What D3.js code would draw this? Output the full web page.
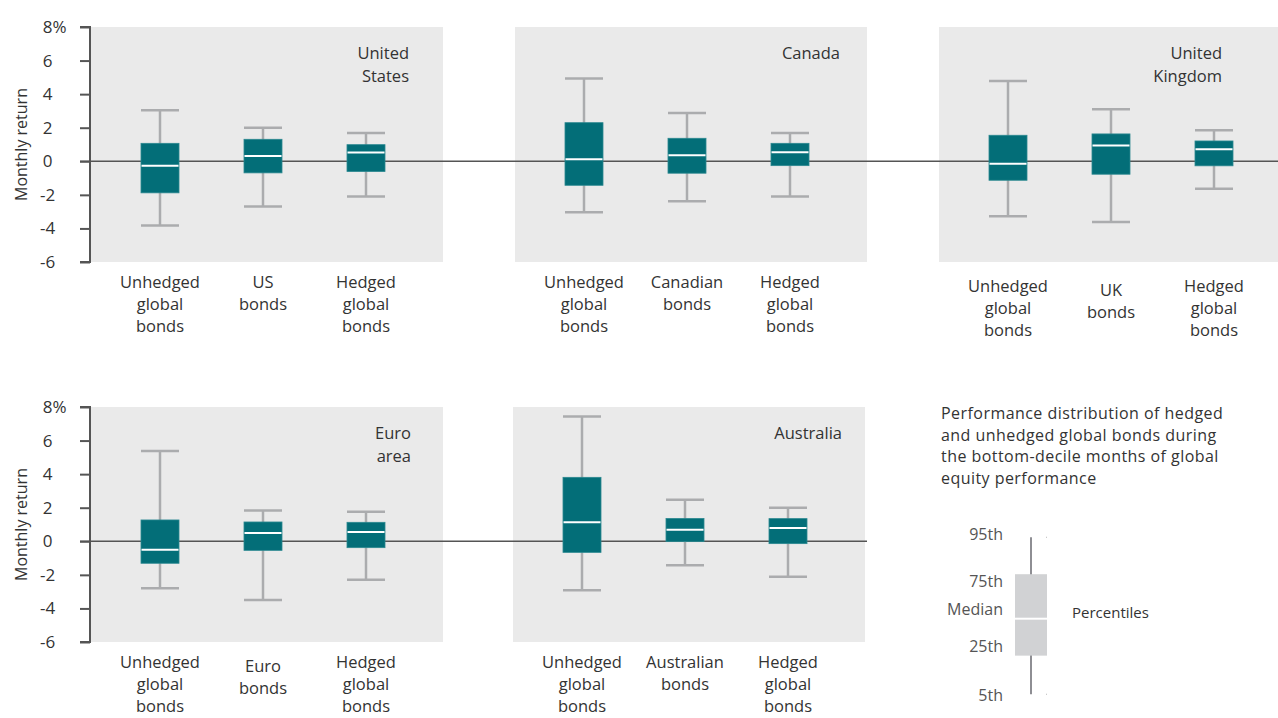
<!DOCTYPE html>
<html>
<head>
<meta charset="utf-8">
<script src="https://cdn.jsdelivr.net/npm/d3@7/dist/d3.min.js"></script>
<style>
  html, body { margin: 0; padding: 0; background: #fff; }
  svg { display: block; font-family: "Open Sans", "Noto Sans", sans-serif; }
</style>
</head>
<body>
<svg id="chart" width="1278" height="718"></svg>
<script>
// ---- Data: percentile statistics (monthly return, %) ----
const regions = ["United States", "Canada", "United Kingdom", "Euro area", "Australia"];
const regionTitles = [["United", "States"], ["Canada"], ["United", "Kingdom"], ["Euro", "area"], ["Australia"]];
const categoryLabels = [
  [["Unhedged", "global", "bonds"], ["US", "bonds"], ["Hedged", "global", "bonds"]],
  [["Unhedged", "global", "bonds"], ["Canadian", "bonds"], ["Hedged", "global", "bonds"]],
  [["Unhedged", "global", "bonds"], ["UK", "bonds"], ["Hedged", "global", "bonds"]],
  [["Unhedged", "global", "bonds"], ["Euro", "bonds"], ["Hedged", "global", "bonds"]],
  [["Unhedged", "global", "bonds"], ["Australian", "bonds"], ["Hedged", "global", "bonds"]]
];
// each row: [unhedged global, local bonds, hedged global]
const p5 = [
  [-3.83, -2.70, -2.10],
  [-3.04, -2.38, -2.10],
  [-3.28, -3.61, -1.63],
  [-2.80, -3.50, -2.29],
  [-2.92, -1.43, -2.11]
];
const p25 = [
  [-1.88, -0.69, -0.61],
  [-1.43, -0.71, -0.26],
  [-1.13, -0.77, -0.27],
  [-1.31, -0.54, -0.38],
  [-0.66, -0.02, -0.14]
];
const p50 = [
  [-0.26, 0.32, 0.52],
  [0.12, 0.36, 0.54],
  [-0.14, 0.94, 0.71],
  [-0.50, 0.49, 0.55],
  [1.13, 0.69, 0.79]
];
const p75 = [
  [1.07, 1.31, 0.99],
  [2.30, 1.37, 1.07],
  [1.55, 1.63, 1.21],
  [1.27, 1.15, 1.13],
  [3.81, 1.36, 1.35]
];
const p95 = [
  [3.04, 2.00, 1.69],
  [4.93, 2.88, 1.69],
  [4.79, 3.10, 1.85],
  [5.38, 1.84, 1.76],
  [7.44, 2.48, 2.00]
];
const yTicks = [-6, -4, -2, 0, 2, 4, 6, 8];
const yDomain = [-6, 8];

const legendTitle = ["Performance distribution of hedged", "and unhedged global bonds during",
                     "the bottom-decile months of global", "equity performance"];
const legendNames = ["5th", "25th", "Median", "75th", "95th"];
const legendValues = [-4.5, -2.2, 0, 2.65, 4.85];

// ---- Layout ----
const COLORS = {
  panel: "#eaeaea", box: "#036e78", boxEdge: "#2b8890", whisker: "#abacae",
  axis: "#555", text: "#333", legendBox: "#d1d2d4", legendWhisker: "#8e8e93", legendLabel: "#555"
};
const panelW = 352, panelH = 235;
const rows = [{ top: 27, zeroEnd: 1278 }, { top: 407, zeroEnd: 867 }];
const panels = [
  { row: 0, x: 91,  titleX: 318, labelShift: 0, midShift: 0 },
  { row: 0, x: 515, titleX: 325, labelShift: 0, midShift: 0 },
  { row: 0, x: 939, titleX: 283, labelShift: 4, midShift: 4 },
  { row: 1, x: 91,  titleX: 320, labelShift: 0, midShift: 4 },
  { row: 1, x: 513, titleX: 329, labelShift: 0, midShift: 0 }
];
const boxW = 38;

const svg = d3.select("#chart");

// y scales per row
const yScales = rows.map(r => d3.scaleLinear().domain(yDomain).range([r.top + panelH, r.top]));

// panel backgrounds
panels.forEach((p, i) => {
  const r = rows[p.row];
  const w = i === 2 ? 1278 - p.x : panelW;
  svg.append("rect").attr("x", p.x).attr("y", r.top).attr("width", w).attr("height", panelH)
    .attr("fill", COLORS.panel);
});

// y axes
rows.forEach((r, ri) => {
  const y = yScales[ri];
  const g = svg.append("g").attr("transform", `translate(90,0)`);
  const axis = d3.axisLeft(y).tickValues(yTicks).tickSize(10).tickFormat(d => d);
  g.call(axis);
  g.select(".domain").attr("stroke", COLORS.axis).attr("stroke-width", 2).attr("d", `M-10,${y(-6)}H0V${y(8)}H-10`);
  g.selectAll(".tick line").attr("stroke", COLORS.axis).attr("stroke-width", 2);
  g.selectAll(".tick text")
    .attr("x", -42.5).attr("text-anchor", "middle")
    .attr("font-size", 17).attr("fill", COLORS.text)
    .attr("font-family", "'Open Sans', sans-serif")
    .each(function (d) {
      if (d === 8) {
        const t = d3.select(this);
        const pct = t.append("tspan").text("%");
        const w = pct.node().getComputedTextLength();
        t.attr("dx", w / 2);
      }
    });
  // y axis title
  svg.append("text")
    .attr("transform", `translate(27,${y(1)}) rotate(-90)`)
    .attr("text-anchor", "middle")
    .attr("font-size", 16).attr("fill", COLORS.text)
    .text("Monthly return");
  // zero line
  svg.append("line").attr("x1", 80).attr("x2", r.zeroEnd)
    .attr("y1", y(0)).attr("y2", y(0))
    .attr("stroke", COLORS.axis).attr("stroke-width", 1.5);
});

// boxes
panels.forEach((p, i) => {
  const y = yScales[p.row];
  const r = rows[p.row];
  const x = d3.scalePoint().domain([0, 1, 2]).range([p.x + 69, p.x + 275]);
  const stats = [0, 1, 2].map(j => ({
    j, lo: p5[i][j], q1: p25[i][j], med: p50[i][j], q3: p75[i][j], hi: p95[i][j]
  }));
  const g = svg.append("g");
  const b = g.selectAll("g.box").data(stats).enter().append("g").attr("class", "box");
  // whisker stem
  b.append("line")
    .attr("x1", d => x(d.j)).attr("x2", d => x(d.j))
    .attr("y1", d => y(d.hi)).attr("y2", d => y(d.lo))
    .attr("stroke", COLORS.whisker).attr("stroke-width", 2.5);
  // caps
  ["hi", "lo"].forEach(k => {
    b.append("line")
      .attr("x1", d => x(d.j) - boxW / 2).attr("x2", d => x(d.j) + boxW / 2)
      .attr("y1", d => y(d[k])).attr("y2", d => y(d[k]))
      .attr("stroke", COLORS.whisker).attr("stroke-width", 2.5);
  });
  // box
  b.append("rect")
    .attr("x", d => x(d.j) - boxW / 2).attr("width", boxW)
    .attr("y", d => y(d.q3)).attr("height", d => y(d.q1) - y(d.q3))
    .attr("fill", COLORS.box).attr("stroke", COLORS.boxEdge).attr("stroke-width", 0.8);
  // median
  b.append("line")
    .attr("x1", d => x(d.j) - boxW / 2 + 0.5).attr("x2", d => x(d.j) + boxW / 2 - 0.5)
    .attr("y1", d => y(d.med)).attr("y2", d => y(d.med))
    .attr("stroke", "#fff").attr("stroke-width", 2);

  // category labels
  const labelTop = r.top + panelH + 26 + p.labelShift;
  categoryLabels[i].forEach((lines, j) => {
    const t = svg.append("text")
      .attr("text-anchor", "middle").attr("font-size", 16.5).attr("fill", COLORS.text)
      .attr("x", x(j)).attr("y", labelTop + (j === 1 ? p.midShift : 0));
    lines.forEach((ln, k) => t.append("tspan").attr("x", x(j)).attr("dy", k === 0 ? 0 : 22).text(ln));
  });

  // panel title
  const tt = svg.append("text")
    .attr("text-anchor", "end").attr("font-size", 16.5).attr("fill", COLORS.text)
    .attr("x", p.x + p.titleX).attr("y", r.top + 32);
  regionTitles[i].forEach((ln, k) => tt.append("tspan").attr("x", p.x + p.titleX).attr("dy", k === 0 ? 0 : 23).text(ln));
});

// ---- Legend ----
const lg = svg.append("g");
legendTitle.forEach((ln, k) => {
  lg.append("text").attr("x", 941).attr("y", 419 + k * 21.7)
    .attr("font-size", 16).attr("letter-spacing", 0.45).attr("fill", COLORS.text).text(ln);
});
const ly = d3.scaleLinear().domain([0, 1]).range([618.7, 618.7 - 16.79]);
const lx = 1031, lbw = 32;
const [l5, l25, l50, l75, l95] = legendValues;
lg.append("line").attr("x1", lx).attr("x2", lx).attr("y1", ly(l95)).attr("y2", ly(l5))
  .attr("stroke", COLORS.legendWhisker).attr("stroke-width", 2);
lg.append("rect").attr("x", lx - lbw / 2).attr("width", lbw)
  .attr("y", ly(l75)).attr("height", ly(l25) - ly(l75)).attr("fill", COLORS.legendBox);
lg.append("line").attr("x1", lx - lbw / 2).attr("x2", lx + lbw / 2)
  .attr("y1", ly(l50)).attr("y2", ly(l50)).attr("stroke", "#fff").attr("stroke-width", 2);
[l95, l5].forEach(v => {
  lg.append("rect").attr("x", lx + 15).attr("y", ly(v) - 0.5).attr("width", 1).attr("height", 1)
    .attr("fill", "#bbb");
});
const labelNudge = [1, -9, -9.5, 7, -2.5];
legendNames.forEach((n, k) => {
  lg.append("text").attr("x", 1003).attr("y", ly(legendValues[k]) + labelNudge[k])
    .attr("dy", "0.35em").attr("text-anchor", "end")
    .attr("font-size", 16).attr("fill", COLORS.legendLabel).text(n);
});
lg.append("text").attr("x", 1072).attr("y", 613).attr("dy", "0.35em")
  .attr("font-size", 15).attr("fill", COLORS.text).text("Percentiles");
</script>
</body>
</html>
